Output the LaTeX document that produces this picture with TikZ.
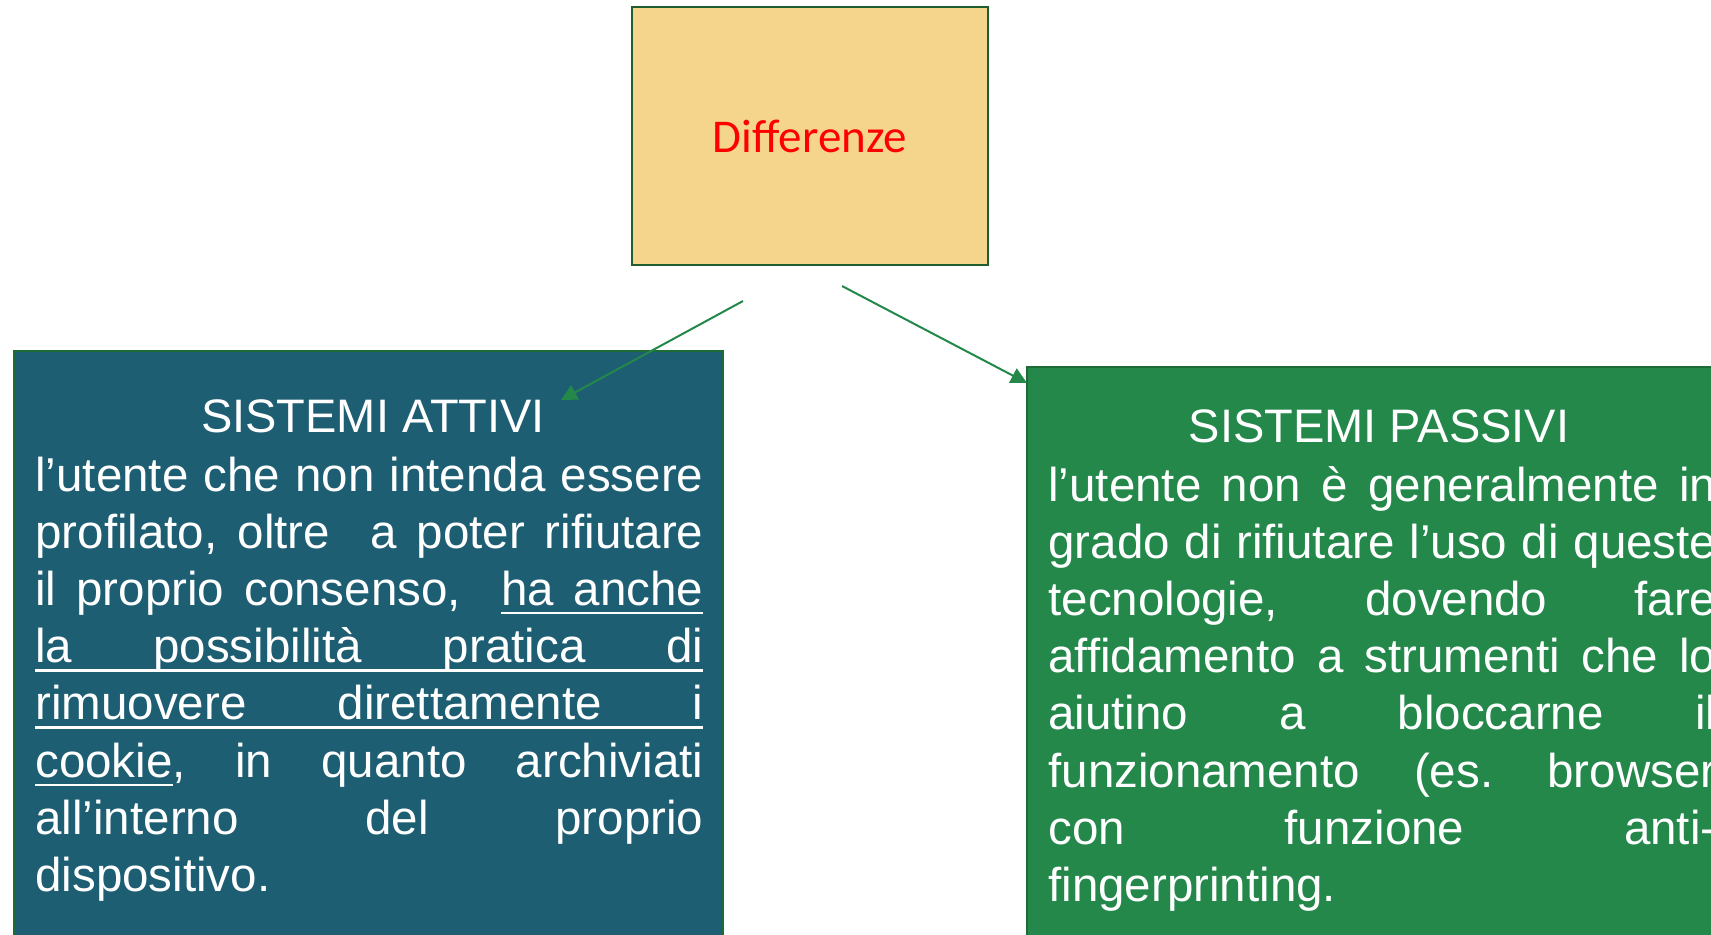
\documentclass[tikz,border=0pt]{standalone}
\usepackage{fontspec}
\setmainfont{Liberation Sans}
\newfontfamily\carlitofont{Carlito}
\usetikzlibrary{arrows.meta}
\definecolor{topfill}{HTML}{F5D58B}
\definecolor{topline}{HTML}{1F5F2F}
\definecolor{bluefill}{HTML}{1D5E73}
\definecolor{greenfill}{HTML}{23884A}
\definecolor{boxline}{HTML}{1E6B35}
\definecolor{arrowcol}{HTML}{23884A}
\newsavebox\myulbox
\newcommand\ulw[1]{\sbox\myulbox{#1}\rlap{\rule[-4.5pt]{\wd\myulbox}{1.2pt}}\usebox\myulbox}
\newcommand\uls{\leaders\hrule height -3.3pt depth 4.5pt\hskip\fontdimen2\font plus\fontdimen3\font minus\fontdimen4\font\relax}
\begin{document}
\begin{tikzpicture}[x=0.5pt,y=-0.5pt,
  panel/.style={draw=boxline, line width=1pt, anchor=north west, minimum width=354.5pt, minimum height=350pt, inner sep=0pt},
  paneltitle/.style={text=white, font=\fontsize{23.5pt}{28.6pt}\selectfont, anchor=base, inner sep=0pt},
  panelbody/.style={text=white, font=\fontsize{23.75pt}{28.6pt}\selectfont\frenchspacing, anchor=base west, inner sep=0pt, text width=334pt, align=justify},
  link/.style={draw=arrowcol, line width=1pt, -{Triangle[length=8pt,width=8pt]}}]
\useasboundingbox (0,0) rectangle (1711,934);
\fill[white] (0,0) rectangle (1711,934);
\clip (0,0) rectangle (1711,934);

\node[draw=topline, fill=topfill, line width=1.4pt, minimum width=178pt, minimum height=129pt, inner sep=0pt,
      font=\carlitofont\fontsize{23.5pt}{28pt}\selectfont, text=red] (diff) at (810,136) {Differenze};

\node[panel, fill=bluefill] (attivi) at (13,350) {};
\node[panel, fill=greenfill] (passivi) at (1026,366) {};

\coordinate (s1) at (743,301);
\coordinate (e1) at (561,400);
\coordinate (s2) at (842,286);
\coordinate (e2) at (1027,383);
\draw[link] (s1) -- (e1);
\draw[link] (s2) -- (e2);

\node[paneltitle] (tA) at (373,432) {SISTEMI ATTIVI};
\node[panelbody] (bA) at (35,491) {l’utente che non intenda essere\linebreak
profilato, oltre\ \ a poter rifiutare\linebreak
il proprio consenso,\ \ \ulw{ha}\uls\ulw{anche}\linebreak
\ulw{la}\uls\ulw{possibilità}\uls\ulw{pratica}\uls\ulw{di}\linebreak
\ulw{rimuovere}\uls\ulw{direttamente}\uls\ulw{i}\linebreak
\ulw{cookie}, in quanto archiviati\linebreak
all’interno del proprio\linebreak
dispositivo.};

\node[paneltitle] (tP) at (1379,442) {SISTEMI PASSIVI};
\node[panelbody] (bP) at (1048,501) {l’utente non è generalmente in\linebreak
grado di rifiutare l’uso di queste\linebreak
tecnologie, dovendo fare\linebreak
affidamento a strumenti che lo\linebreak
aiutino a bloccarne il\linebreak
funzionamento (es. browser\linebreak
con funzione anti-\linebreak
fingerprinting.};
\end{tikzpicture}
\end{document}
